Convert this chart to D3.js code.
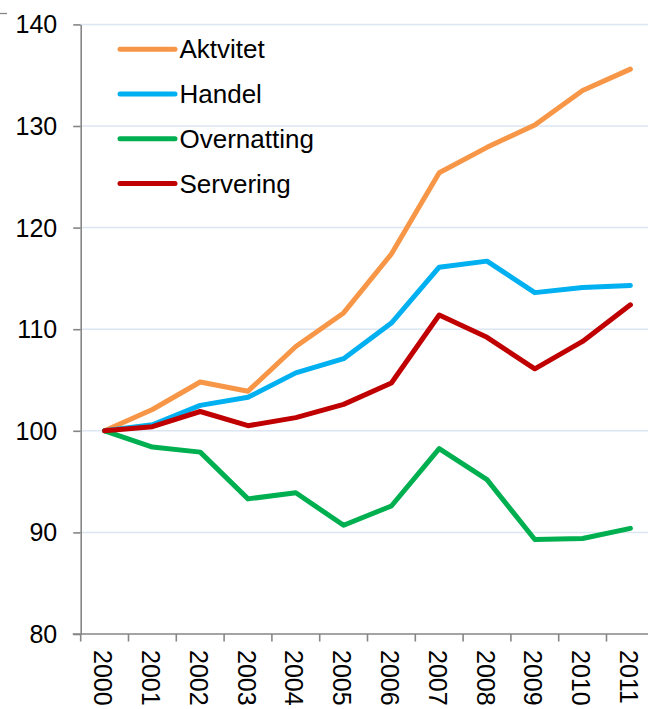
<!DOCTYPE html>
<html>
<head>
<meta charset="utf-8">
<script src="https://cdn.jsdelivr.net/npm/d3@7"></script>
<style>
  html, body { margin: 0; padding: 0; background: #fff; }
  svg { display: block; font-family: "Liberation Sans", Arial, sans-serif; }
</style>
</head>
<body>
<svg id="chart" width="648" height="709"></svg>
<script>
// Index, 2000 = 100
const years = ["2000","2001","2002","2003","2004","2005","2006","2007","2008","2009","2010","2011"];
const aktvitet    = [100, 102.1, 104.8, 103.9, 108.3, 111.6, 117.4, 125.4, 127.9, 130.1, 133.5, 135.6];
const handel      = [100, 100.6, 102.5, 103.3, 105.7, 107.1, 110.6, 116.1, 116.7, 113.6, 114.1, 114.3];
const overnatting = [100, 98.4, 97.9, 93.3, 93.9, 90.7, 92.6, 98.25, 95.2, 89.3, 89.4, 90.4];
const servering   = [100, 100.4, 101.9, 100.5, 101.3, 102.6, 104.7, 111.4, 109.2, 106.1, 108.8, 112.4];
const seriesNames  = ["Aktvitet", "Handel", "Overnatting", "Servering"];
const seriesColors = ["#F79646", "#00B0F0", "#00B050", "#C00000"];
const yTicks = [80, 90, 100, 110, 120, 130, 140];

const series = [aktvitet, handel, overnatting, servering].map((vals, i) => ({
  name: seriesNames[i], color: seriesColors[i], values: vals
}));

const svg = d3.select("#chart");
const left = 80.7, bw = 47.8;
const x = d3.scaleBand().domain(years).range([left, left + bw * years.length]).padding(0);
const y = d3.scaleLinear().domain([80, 140]).range([634, 24.4]);
const axisColor = "#868686";

// small frame corner at top-left
svg.append("line").attr("x1", 0).attr("x2", 7).attr("y1", 13.5).attr("y2", 13.5)
  .attr("stroke", axisColor).attr("stroke-width", 1.3);

// horizontal gridlines
svg.append("g").selectAll("line").data(yTicks.filter(d => d > 80)).join("line")
  .attr("x1", left).attr("x2", 648)
  .attr("y1", d => y(d)).attr("y2", d => y(d))
  .attr("stroke", "#DCE6F2").attr("stroke-width", 1.5);

// y axis
const yAxis = svg.append("g").attr("transform", `translate(${left},0)`)
  .call(d3.axisLeft(y).tickValues(yTicks).tickSize(7.5).tickSizeOuter(0).tickPadding(16));
yAxis.select(".domain").attr("stroke", axisColor).attr("stroke-width", 1.6);
yAxis.selectAll(".tick line").attr("stroke", axisColor).attr("stroke-width", 1.6);
yAxis.selectAll(".tick text").attr("font-size", 25).attr("fill", "#000")
  .attr("font-family", "Liberation Sans, Arial, sans-serif").attr("dy", "0.34em");

// x axis
const xAxisG = svg.append("g").attr("transform", `translate(0,${y(80)})`);
xAxisG.append("line").attr("x1", left - 8).attr("x2", 648).attr("y1", 0).attr("y2", 0)
  .attr("stroke", axisColor).attr("stroke-width", 1.6);
xAxisG.selectAll("line.tk").data(years).join("line").attr("class", "tk")
  .attr("x1", d => x(d)).attr("x2", d => x(d)).attr("y1", 0).attr("y2", 7.5)
  .attr("stroke", axisColor).attr("stroke-width", 1.6);
xAxisG.selectAll("text").data(years).join("text")
  .attr("transform", d => `translate(${x(d) + x.bandwidth() / 2 - 1.5},16) rotate(90)`)
  .attr("text-anchor", "start").attr("dominant-baseline", "central")
  .attr("font-size", 25).attr("fill", "#000").text(d => d);

// lines
const line = d3.line()
  .x((d, i) => x(years[i]) + x.bandwidth() / 2)
  .y(d => y(d));
svg.append("g").selectAll("path").data(series).join("path")
  .attr("d", s => line(s.values))
  .attr("fill", "none").attr("stroke", s => s.color)
  .attr("stroke-width", 5).attr("stroke-linejoin", "round").attr("stroke-linecap", "round");

// legend
const legend = svg.append("g").selectAll("g").data(series).join("g")
  .attr("transform", (s, i) => `translate(120,${49.3 + i * 44.7})`);
legend.append("line").attr("x1", 0).attr("x2", 55).attr("y1", 0).attr("y2", 0)
  .attr("stroke", s => s.color).attr("stroke-width", 5).attr("stroke-linecap", "round");
legend.append("text").attr("x", 59.5).attr("y", 0).attr("dy", "0.35em")
  .attr("font-size", 26).attr("fill", "#000").text(s => s.name);
</script>
</body>
</html>
